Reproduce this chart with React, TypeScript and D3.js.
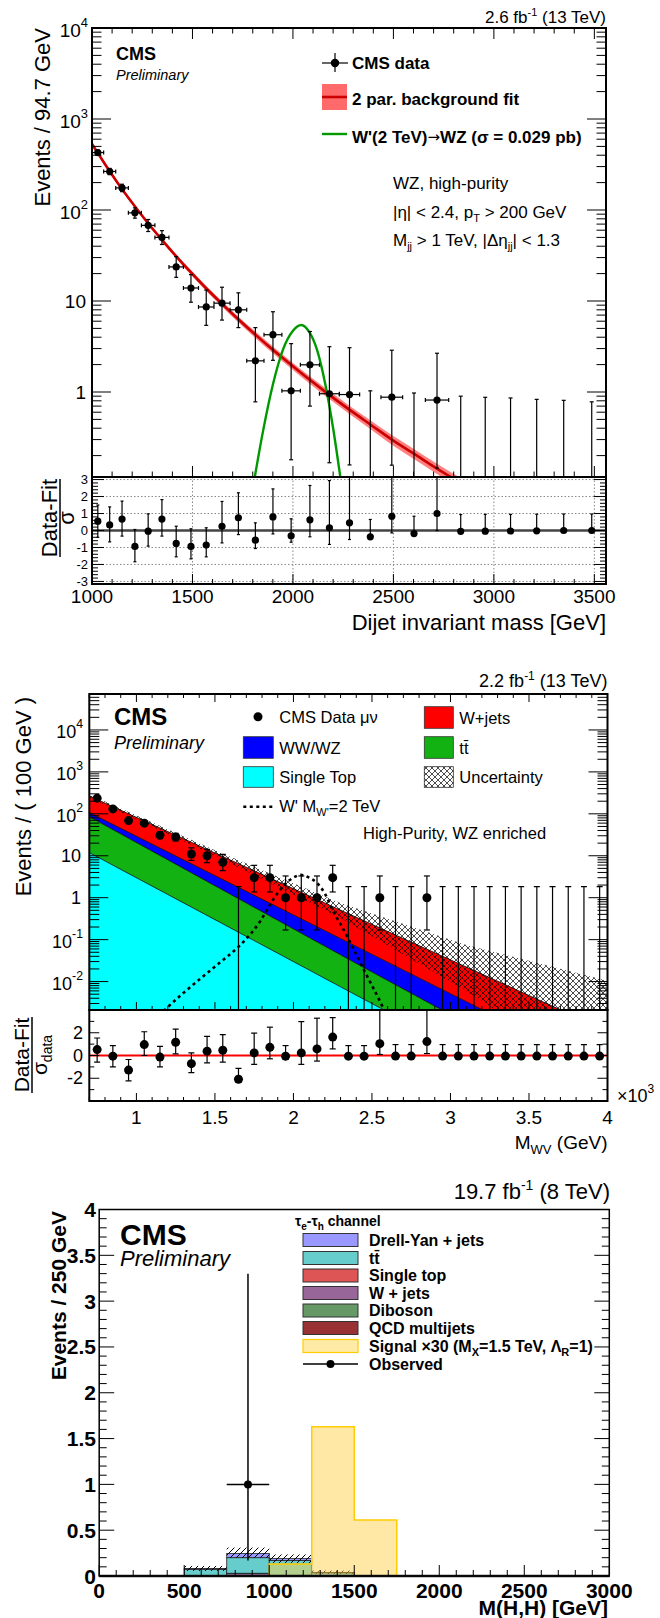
import React from "react";
import * as d3 from "d3";

const FONT = "'Liberation Sans', Arial, Helvetica, sans-serif";

// ---------- plot 1: dijet WZ high-purity, 2.6 fb-1 ----------
const dijetEdges = [1000, 1058, 1118, 1181, 1246, 1313, 1383, 1455, 1530, 1607, 1687, 1770, 1856, 1945, 2037, 2132, 2231, 2332, 2438, 2546, 2659, 2775, 2895, 3019, 3147, 3279, 3416, 3558];
const dijetData = [428, 265, 175, 93, 67.8, 50, 23.7, 13.9, 8.6, 9.47, 8.0, 2.2, 4.26, 1.03, 1.99, 0.957, 0.938, 0, 0.877, 0, 0.816, 0, 0, 0, 0, 0, 0];
const dijetErrLo = [26, 20.5, 16, 11.6, 9.8, 8.2, 5.5, 4.2, 3.2, 3.3, 2.9, 1.42, 2.03, 0.85, 1.29, 0.79, 0.78, 0, 0.72, 0, 0.67, 0, 0, 0, 0, 0, 0];
const dijetErrHi = [27, 21.5, 17, 12.6, 10.8, 9.3, 7.0, 5.6, 4.6, 4.7, 4.3, 2.9, 3.36, 2.37, 2.63, 2.19, 2.13, 1.03, 2.0, 0.975, 1.85, 0.9, 0.875, 0.86, 0.83, 0.81, 0.78];
const fitMass = [1000, 1029, 1088, 1149, 1213, 1279, 1348, 1419, 1492, 1568, 1647, 1728, 1813, 1900, 1991, 2084, 2181, 2281, 2385, 2492, 2602, 2717, 2835];
const fitVal = [531, 422, 266, 170, 110, 71.6, 47, 31, 20.7, 13.8, 9.3, 6.3, 4.27, 2.91, 1.99, 1.36, 0.93, 0.64, 0.44, 0.3, 0.21, 0.144, 0.1];
const fitUnc = [0.05, 0.045, 0.04, 0.04, 0.04, 0.045, 0.05, 0.055, 0.06, 0.065, 0.07, 0.075, 0.08, 0.085, 0.09, 0.095, 0.1, 0.105, 0.11, 0.12, 0.125, 0.13, 0.135];
const sigMass = [1805, 1850, 1900, 1950, 2000, 2042, 2080, 2120, 2160, 2200, 2240];
const sigVal = [0.1, 0.36, 1.2, 2.9, 4.7, 5.45, 4.6, 2.9, 1.25, 0.4, 0.1];
const pullVal = [0.55, 0.33, 0.67, -0.94, -0.04, 0.67, -0.76, -0.94, -0.86, 0.25, 0.75, -0.57, 0.8, -0.31, 0.63, 0.16, 0.45, -0.37, 0.84, -0.18, 1.0, -0.05, -0.04, -0.03, -0.02, 0, 0];
const pullLo = [-0.4, -0.67, -0.33, -1.84, -0.92, -0.33, -1.55, -1.67, -1.55, -0.73, -0.24, -1.06, -0.2, -0.69, -0.37, -0.82, -0.53, -0.37, -0.14, -0.18, 0, -0.05, -0.04, -0.03, -0.02, 0, 0];
const pullHi = [1.5, 1.39, 1.73, 0.06, 0.98, 1.82, 0.25, 0.1, 0.16, 1.71, 2.22, 0.45, 2.45, 0.69, 2.65, 2.94, 3.3, 0.65, 3.3, 0.84, 3.3, 0.94, 0.95, 0.95, 0.96, 0.97, 0.97];

// ---------- plot 2: WV mu-nu, 2.2 fb-1 ----------
const wvCenters = [750, 850, 950, 1050, 1150, 1250, 1350, 1450, 1550, 1650, 1750, 1850, 1950, 2050, 2150, 2250, 2350, 2450, 2550, 2650, 2750, 2850, 2950, 3050, 3150, 3250, 3350, 3450, 3550, 3650, 3750, 3850, 3950];
const wvData = [236, 131, 69, 60, 31, 28, 11, 10, 7, 0, 3, 3, 1, 1, 1, 3, 0, 0, 1, 0, 0, 1, 0, 0, 0, 0, 0, 0, 0, 0, 0, 0, 0];
const wvErrLo = [15.4, 11.4, 8.29, 7.72, 5.53, 5.26, 3.27, 3.11, 2.58, 0, 1.63, 1.63, 0.83, 0.83, 0.83, 1.63, 0, 0, 0.83, 0, 0, 0.83, 0, 0, 0, 0, 0, 0, 0, 0, 0, 0, 0];
const wvErrHi = [16.4, 12.5, 9.35, 8.79, 6.62, 6.35, 4.42, 4.26, 3.77, 1.84, 2.92, 2.92, 2.3, 2.3, 2.3, 2.92, 1.84, 1.84, 2.3, 1.84, 1.84, 2.3, 1.84, 1.84, 1.84, 1.84, 1.84, 1.84, 1.84, 1.84, 1.84, 1.84, 1.84];
const wvPull = [0.52, -0.06, -1.28, 0.96, -0.14, 1.16, -0.72, 0.38, 0.46, -2.09, 0.23, 0.72, -0.06, 0.23, 0.58, 1.62, -0.06, -0.06, 1.04, -0.05, -0.05, 1.22, -0.05, -0.05, -0.05, -0.05, -0.05, -0.05, -0.05, -0.05, -0.05, -0.05, -0.05];
const wvPullLo = [-0.58, -1.0, -2.23, 0, -1.0, 0.15, -1.5, -0.64, -0.58, -2.37, -0.78, -0.29, -0.35, -0.78, -0.49, 0.58, -0.06, -0.06, 0.09, -0.05, -0.05, 0.17, -0.05, -0.05, -0.05, -0.05, -0.05, -0.05, -0.05, -0.05, -0.05, -0.05, -0.05];
const wvPullHi = [1.54, 0.87, -0.35, 2.09, 0.81, 2.32, 0.23, 1.68, 1.83, -1.13, 1.97, 2.49, 0.87, 2.98, 3.28, 3.33, 0.87, 0.87, 4.5, 0.96, 0.96, 4.5, 0.96, 0.96, 0.96, 0.96, 0.96, 0.96, 0.96, 0.96, 0.96, 0.96, 0.96];
const bkgMass = [700, 1500, 2300, 3100, 4000];
const bkgSingleTop = [11.9, 0.3, 0.0075, 0.00019, 0.000003];
const bkgTTbar = [74, 1.63, 0.036, 0.00083, 0.0000105];
const bkgVV = [21, 1.43, 0.062, 0.0023, 0.000054];
const bkgWjets = [160, 8.3, 0.4, 0.019, 0.00059];
const bkgUncLo = [245, 10, 0.33, 0.006, 0.00004];
const bkgUncHi = [290, 13.5, 0.75, 0.075, 0.0105];
const wpMass = [1173, 1290, 1407, 1530, 1651, 1730, 1790, 1870, 1940, 2000, 2045, 2100, 2152, 2200, 2250, 2310, 2365, 2450, 2556, 2580];
const wpVal = [0.002, 0.005, 0.0117, 0.028, 0.068, 0.14, 0.28, 0.89, 2.0, 3.0, 3.5, 3.0, 2.2, 1.26, 0.5, 0.2, 0.081, 0.0186, 0.0031, 0.002];

// ---------- plot 3: M(H,H), tau_e tau_h, 19.7 fb-1 ----------
const hhEdges = [0, 250, 500, 750, 1000, 1250, 1500, 1750, 2000, 2250, 2500, 2750, 3000];
const hhQCD = [0, 0, 0, 0, 0, 0, 0, 0, 0, 0, 0, 0];
const hhDiboson = [0, 0, 0, 0.004, 0.004, 0.002, 0, 0, 0, 0, 0, 0];
const hhWjets = [0, 0, 0, 0.022, 0, 0, 0, 0, 0, 0, 0, 0];
const hhSingleTop = [0, 0, 0.003, 0.004, 0.004, 0.003, 0, 0, 0, 0, 0, 0];
const hhTTbar = [0, 0, 0.07, 0.17, 0.162, 0.03, 0, 0, 0, 0, 0, 0];
const hhDY = [0, 0, 0.008, 0.045, 0.02, 0.005, 0, 0, 0, 0, 0, 0];
const hhUncLo = [0, 0, 0.055, 0.2, 0.14, 0.02, 0, 0, 0, 0, 0, 0];
const hhUncHi = [0, 0, 0.11, 0.31, 0.235, 0.06, 0, 0, 0, 0, 0, 0];
const hhSignal = [0, 0, 0, 0, 0.13, 1.63, 0.61, 0, 0, 0, 0, 0];
const hhObsMass = [875];
const hhObs = [1];
const hhObsLo = [0.83];
const hhObsHi = [2.3];

type Tick = { v: number; major: boolean };

function logTicks(lo: number, hi: number): Tick[] {
  const out: Tick[] = [];
  for (let k = Math.floor(Math.log10(lo)); k <= Math.ceil(Math.log10(hi)); k++) {
    for (let m = 1; m < 10; m++) {
      const v = m * Math.pow(10, k);
      if (v >= lo * 0.9999 && v <= hi * 1.0001) out.push({ v, major: m === 1 });
    }
  }
  return out;
}

function linTicks(lo: number, hi: number, step: number, every: number): Tick[] {
  const out: Tick[] = [];
  for (let n = Math.ceil(lo / step - 1e-9); n <= Math.floor(hi / step + 1e-9); n++) {
    const v = +(n * step).toFixed(6);
    out.push({ v, major: Math.abs(v / every - Math.round(v / every)) < 1e-6 });
  }
  return out;
}

const TicksY = ({ ticks, s, x, dir, maj, min }: any) => (
  <g stroke="#000" strokeWidth={1}>
    {ticks.map((t: Tick, i: number) => (
      <line key={i} x1={x} x2={x + dir * (t.major ? maj : min)} y1={s(t.v)} y2={s(t.v)} />
    ))}
  </g>
);

const TicksX = ({ ticks, s, y, dir, maj, min }: any) => (
  <g stroke="#000" strokeWidth={1}>
    {ticks.map((t: Tick, i: number) => (
      <line key={i} x1={s(t.v)} x2={s(t.v)} y1={y} y2={y + dir * (t.major ? maj : min)} />
    ))}
  </g>
);

const Decade = ({ v, x, y, size }: any) => {
  const k = Math.round(Math.log10(v));
  if (k === 0 || k === 1)
    return <text x={x - 2} y={y} textAnchor="end" dominantBaseline="central" fontSize={size}>{k === 0 ? "1" : "10"}</text>;
  return (
    <text x={x} y={y + 2} textAnchor="end" dominantBaseline="central" fontSize={size}>
      10<tspan dy={-size * 0.42} fontSize={size * 0.68}>{k}</tspan>
    </text>
  );
};

function DijetPlot() {
  const L = 92, R = 606, T = 28, M = 477, B = 584;
  const yMin = 0.1164;
  const x = d3.scaleLinear().domain([1000, 3558]).range([L, R]);
  const y = d3.scaleLog().domain([yMin, 1e4]).range([M, T]);
  const yr = d3.scaleLinear().domain([-3.15, 3.15]).range([B, M]);
  const centers = dijetData.map((_, i) => (dijetEdges[i] + dijetEdges[i + 1]) / 2);
  const band = d3.area<number>()
    .x((_, i) => x(fitMass[i]))
    .y0((d, i) => y(d * (1 - fitUnc[i])))
    .y1((d, i) => y(d * (1 + fitUnc[i])))
    .curve(d3.curveMonotoneX)(fitVal);
  const fit = d3.line<number>().x((_, i) => x(fitMass[i])).y((d) => y(d)).curve(d3.curveMonotoneX)(fitVal);
  const sig = d3.line<number>().x((_, i) => x(sigMass[i])).y((d) => y(d)).curve(d3.curveMonotoneX)(sigVal);
  const xt = linTicks(1000, 3558, 100, 500);
  const yt = logTicks(yMin, 1e4);
  const rt = linTicks(-3.15, 3.15, 0.2, 1);
  const ints = [-3, -2, -1, 0, 1, 2, 3];
  return (
    <g>
      <defs>
        <clipPath id="c1"><rect x={L} y={T} width={R - L} height={M - T} /></clipPath>
        <clipPath id="c1r"><rect x={L} y={M} width={R - L} height={B - M} /></clipPath>
      </defs>
      <g clipPath="url(#c1)">
        <path d={band || ""} fill="#ff6b6b" opacity={0.85} />
        <path d={fit || ""} fill="none" stroke="#cc0000" strokeWidth={2.6} />
        <path d={sig || ""} fill="none" stroke="#009a00" strokeWidth={2.4} />
        <g stroke="#000" strokeWidth={1.2}>
          {dijetData.map((v, i) => {
            const cx = x(centers[i]);
            const top = y(v + dijetErrHi[i]);
            if (v <= 0)
              return (
                <g key={i}>
                  <line x1={cx} x2={cx} y1={M} y2={top} />
                  <line x1={cx - 2} x2={cx + 2} y1={top} y2={top} />
                </g>
              );
            const lo = v - dijetErrLo[i];
            const bot = lo > yMin ? y(lo) : M;
            const cy = y(v);
            const x0 = x(dijetEdges[i]), x1 = x(dijetEdges[i + 1]);
            return (
              <g key={i}>
                <line x1={cx} x2={cx} y1={bot} y2={top} />
                <line x1={cx - 2} x2={cx + 2} y1={top} y2={top} />
                <line x1={cx - 2} x2={cx + 2} y1={bot} y2={bot} />
                <line x1={x0} x2={x1} y1={cy} y2={cy} />
                <line x1={x0} x2={x0} y1={cy - 2} y2={cy + 2} />
                <line x1={x1} x2={x1} y1={cy - 2} y2={cy + 2} />
                <circle cx={cx} cy={cy} r={3.6} fill="#000" stroke="none" />
              </g>
            );
          })}
        </g>
      </g>
      {/* main frame and ticks */}
      <rect x={L} y={T} width={R - L} height={M - T} fill="none" stroke="#000" strokeWidth={2} />
      <TicksY ticks={yt} s={y} x={L} dir={1} maj={19} min={9.5} />
      <TicksY ticks={yt} s={y} x={R} dir={-1} maj={19} min={9.5} />
      <TicksX ticks={xt} s={x} y={T} dir={1} maj={11} min={5.5} />
      <TicksX ticks={xt} s={x} y={M} dir={-1} maj={11} min={5.5} />
      {yt.filter((t) => t.major).map((t, i) => <Decade key={i} v={t.v} x={88} y={y(t.v)} size={19} />)}
      {/* ratio panel */}
      <g stroke="#888" strokeWidth={1} strokeDasharray="1.5 2">
        {ints.map((v) => <line key={v} x1={L} x2={R} y1={yr(v)} y2={yr(v)} />)}
        {[1500, 2000, 2500, 3000, 3500].map((v) => <line key={v} x1={x(v)} x2={x(v)} y1={M} y2={B} />)}
      </g>
      <line x1={L} x2={R} y1={yr(0)} y2={yr(0)} stroke="#444" strokeWidth={2.5} />
      <g clipPath="url(#c1r)" stroke="#000" strokeWidth={1.2}>
        {pullVal.map((v, i) => {
          const cx = x(centers[i]);
          return (
            <g key={i}>
              <line x1={cx} x2={cx} y1={yr(pullLo[i])} y2={yr(pullHi[i])} />
              <line x1={cx - 1.5} x2={cx + 1.5} y1={yr(pullHi[i])} y2={yr(pullHi[i])} />
              <line x1={cx - 1.5} x2={cx + 1.5} y1={yr(pullLo[i])} y2={yr(pullLo[i])} />
              <circle cx={cx} cy={yr(v)} r={3.6} fill="#000" stroke="none" />
            </g>
          );
        })}
      </g>
      <rect x={L} y={M} width={R - L} height={B - M} fill="none" stroke="#000" strokeWidth={2} />
      <TicksY ticks={rt} s={yr} x={L} dir={1} maj={12} min={6} />
      <TicksY ticks={rt} s={yr} x={R} dir={-1} maj={12} min={6} />
      <TicksX ticks={xt} s={x} y={B} dir={-1} maj={10} min={5} />
      {ints.map((v) => (
        <text key={v} x={88} y={yr(v)} textAnchor="end" dominantBaseline="central" fontSize={13}>{v}</text>
      ))}
      {[1000, 1500, 2000, 2500, 3000, 3500].map((v) => (
        <text key={v} x={x(v)} y={596} textAnchor="middle" dominantBaseline="central" fontSize={19}>{v}</text>
      ))}
      <text x={R} y={622} textAnchor="end" dominantBaseline="central" fontSize={22}>Dijet invariant mass [GeV]</text>
      <text transform="translate(50,28) rotate(-90)" textAnchor="end" fontSize={22}>Events / 94.7 GeV</text>
      <g transform="translate(60,518) rotate(-90)">
        <text x={0} y={-3} textAnchor="middle" fontSize={22}>Data-Fit</text>
        <line x1={-39} x2={39} y1={0} y2={0} stroke="#000" strokeWidth={1.5} />
        <text x={0} y={14} textAnchor="middle" fontSize={22}>σ</text>
      </g>
      {/* labels and legend */}
      <text x={R} y={23} textAnchor="end" fontSize={17}>
        2.6 fb<tspan dy={-7} fontSize={11}>-1</tspan><tspan dy={7} fontSize={17}> (13 TeV)</tspan>
      </text>
      <text x={116} y={60} fontSize={18} fontWeight="bold">CMS</text>
      <text x={116} y={80} fontSize={14.5} fontStyle="italic">Preliminary</text>
      <g stroke="#000" strokeWidth={1.2}>
        <line x1={322} x2={348} y1={63} y2={63} />
        <line x1={335} x2={335} y1={53} y2={72} />
        <circle cx={335} cy={63} r={3.6} fill="#000" />
      </g>
      <rect x={322} y={84} width={25} height={26} fill="#ff6b6b" />
      <line x1={322} x2={347} y1={97} y2={97} stroke="#cc0000" strokeWidth={2.6} />
      <line x1={322} x2={347} y1={134} y2={134} stroke="#009a00" strokeWidth={2.4} />
      <g fontSize={17} fontWeight="bold">
        <text x={352} y={63} dominantBaseline="central">CMS data</text>
        <text x={352} y={99} dominantBaseline="central">2 par. background fit</text>
        <text x={352} y={137} dominantBaseline="central">
          W'(2 TeV)<tspan fontFamily="'DejaVu Sans'" fontWeight="normal" fontSize={15}>{"\u2192"}</tspan>WZ (σ = 0.029 pb)
        </text>
      </g>
      <g fontSize={17}>
        <text x={393} y={189}>WZ, high-purity</text>
        <text x={393} y={218}>|η| &lt; 2.4, p<tspan dy={4} fontSize={11}>T</tspan><tspan dy={-4} fontSize={17}> &gt; 200 GeV</tspan></text>
        <text x={393} y={246}>M<tspan dy={4} fontSize={11}>jj</tspan><tspan dy={-4} fontSize={17}> &gt; 1 TeV, |Δη</tspan><tspan dy={4} fontSize={11}>jj</tspan><tspan dy={-4} fontSize={17}>| &lt; 1.3</tspan></text>
      </g>
    </g>
  );
}

function WVPlot() {
  const L = 89.3, R = 607.5, T = 694, M = 1010, B = 1101;
  const yMin = 0.0021, yMax = 72000;
  const x = d3.scaleLinear().domain([700, 4000]).range([L, R]);
  const y = d3.scaleLog().domain([yMin, yMax]).range([M, T]);
  const yr = d3.scaleLinear().domain([-4, 4]).range([B, M]);
  const c1 = bkgSingleTop;
  const c2 = c1.map((v, i) => v + bkgTTbar[i]);
  const c3 = c2.map((v, i) => v + bkgVV[i]);
  const c4 = c3.map((v, i) => v + bkgWjets[i]);
  const area = (lo: number[] | null, hi: number[]) =>
    d3.area<number>()
      .x((_, i) => x(bkgMass[i]))
      .y0((_, i) => (lo ? y(lo[i]) : M + 5))
      .y1((d) => y(d))(hi) || "";
  const line = (vals: number[]) => d3.line<number>().x((_, i) => x(bkgMass[i])).y((d) => y(d))(vals) || "";
  const unc = d3.area<number>().x((_, i) => x(bkgMass[i])).y0((_, i) => y(bkgUncLo[i])).y1((d) => y(d))(bkgUncHi) || "";
  const wp = d3.line<number>().x((_, i) => x(wpMass[i])).y((d) => y(d)).curve(d3.curveMonotoneX)(wpVal) || "";
  const xt = linTicks(700, 4000, 100, 500);
  const yt = logTicks(yMin, yMax);
  const rt = linTicks(-3, 3, 1, 2);
  return (
    <g>
      <defs>
        <clipPath id="c2"><rect x={L} y={T} width={R - L} height={M - T} /></clipPath>
        <clipPath id="c2r"><rect x={L} y={M} width={R - L} height={B - M} /></clipPath>
        <pattern id="xh" width={6} height={6} patternUnits="userSpaceOnUse">
          <path d="M0,0 L6,6 M6,0 L0,6" stroke="#000" strokeWidth={0.7} />
        </pattern>
      </defs>
      <g clipPath="url(#c2)">
        <path d={area(c3, c4)} fill="#ff0000" />
        <path d={area(c2, c3)} fill="#0000ff" />
        <path d={area(c1, c2)} fill="#12b212" />
        <path d={area(null, c1)} fill="#00ffff" />
        <g fill="none" stroke="#000" strokeWidth={0.8}>
          <path d={line(c1)} />
          <path d={line(c2)} />
          <path d={line(c3)} />
          <path d={line(c4)} />
        </g>
        <path d={unc} fill="url(#xh)" />
        <path d={wp} fill="none" stroke="#000" strokeWidth={2.6} strokeDasharray="3 3.5" />
        <g stroke="#000" strokeWidth={1.2}>
          {wvData.map((v, i) => {
            const cx = x(wvCenters[i]);
            const top = y(v + wvErrHi[i]);
            const lo = v - wvErrLo[i];
            const bot = v > 0 && lo > yMin ? y(lo) : M;
            return (
              <g key={i}>
                <line x1={cx} x2={cx} y1={bot} y2={top} />
                <line x1={cx - 3} x2={cx + 3} y1={top} y2={top} />
                {v > 0 && <line x1={cx - 3} x2={cx + 3} y1={bot} y2={bot} />}
                {v > 0 && <circle cx={cx} cy={y(v)} r={4.5} fill="#000" stroke="none" />}
              </g>
            );
          })}
        </g>
      </g>
      <rect x={L} y={T} width={R - L} height={M - T} fill="none" stroke="#000" strokeWidth={2} />
      <TicksY ticks={yt} s={y} x={L} dir={1} maj={19} min={10} />
      <TicksY ticks={yt} s={y} x={R} dir={-1} maj={19} min={10} />
      <TicksX ticks={xt} s={x} y={T} dir={1} maj={8} min={4} />
      <TicksX ticks={xt} s={x} y={M} dir={-1} maj={8} min={4} />
      {yt.filter((t) => t.major).map((t, i) => <Decade key={i} v={t.v} x={83} y={y(t.v)} size={18} />)}
      {/* ratio */}
      <line x1={L} x2={R} y1={yr(0)} y2={yr(0)} stroke="#ff0000" strokeWidth={2} />
      <g clipPath="url(#c2r)" stroke="#000" strokeWidth={1.2}>
        {wvPull.map((v, i) => {
          const cx = x(wvCenters[i]);
          return (
            <g key={i}>
              <line x1={cx} x2={cx} y1={yr(wvPullLo[i])} y2={yr(wvPullHi[i])} />
              <line x1={cx - 3} x2={cx + 3} y1={yr(wvPullHi[i])} y2={yr(wvPullHi[i])} />
              <line x1={cx - 3} x2={cx + 3} y1={yr(wvPullLo[i])} y2={yr(wvPullLo[i])} />
              <circle cx={cx} cy={yr(v)} r={4.5} fill="#000" stroke="none" />
            </g>
          );
        })}
      </g>
      <rect x={L} y={M} width={R - L} height={B - M} fill="none" stroke="#000" strokeWidth={2} />
      <TicksY ticks={rt} s={yr} x={L} dir={1} maj={10} min={5} />
      <TicksY ticks={rt} s={yr} x={R} dir={-1} maj={10} min={5} />
      <TicksX ticks={xt} s={x} y={B} dir={-1} maj={8} min={4} />
      {[2, 0, -2].map((v) => (
        <text key={v} x={83} y={yr(v)} textAnchor="end" dominantBaseline="central" fontSize={18}>{v}</text>
      ))}
      {[1000, 1500, 2000, 2500, 3000, 3500, 4000].map((v) => (
        <text key={v} x={x(v)} y={1117} textAnchor="middle" dominantBaseline="central" fontSize={19}>{v / 1000}</text>
      ))}
      <text x={617} y={1096} dominantBaseline="central" fontSize={18}>
        ×10<tspan dy={-7} fontSize={12}>3</tspan>
      </text>
      <text x={R} y={1149} textAnchor="end" fontSize={19}>
        M<tspan dy={5} fontSize={13}>WV</tspan><tspan dy={-5} fontSize={19}> (GeV)</tspan>
      </text>
      <text transform="translate(31,697) rotate(-90)" textAnchor="end" fontSize={22}>Events / ( 100 GeV )</text>
      <g transform="translate(32,1055) rotate(-90)">
        <text x={0} y={-3} textAnchor="middle" fontSize={21}>Data-Fit</text>
        <line x1={-38} x2={38} y1={0} y2={0} stroke="#000" strokeWidth={1.5} />
        <text x={0} y={15} textAnchor="middle" fontSize={21}>σ<tspan dy={5} fontSize={14}>data</tspan></text>
      </g>
      <text x={R} y={687} textAnchor="end" fontSize={18}>
        2.2 fb<tspan dy={-7} fontSize={12}>-1</tspan><tspan dy={7} fontSize={18}> (13 TeV)</tspan>
      </text>
      <text x={114} y={725} fontSize={24} fontWeight="bold">CMS</text>
      <text x={114} y={749} fontSize={18} fontStyle="italic">Preliminary</text>
      {/* legend */}
      <circle cx={258} cy={716.7} r={4.5} fill="#000" />
      <rect x={243.3} y={736.7} width={30} height={21.6} fill="#0000ff" stroke="#333" strokeWidth={0.8} />
      <rect x={243.3} y={766.7} width={30} height={20.6} fill="#00ffff" stroke="#333" strokeWidth={0.8} />
      <line x1={243.3} x2={273.3} y1={806.7} y2={806.7} stroke="#000" strokeWidth={2.6} strokeDasharray="3 3.5" />
      <rect x={424.3} y={706.7} width={29} height={21.6} fill="#ff0000" stroke="#333" strokeWidth={0.8} />
      <rect x={424.3} y={736.7} width={29} height={21.6} fill="#12b212" stroke="#333" strokeWidth={0.8} />
      <rect x={424.3} y={766.7} width={29} height={20.6} fill="#fff" stroke="#333" strokeWidth={0.8} />
      <rect x={424.3} y={766.7} width={29} height={20.6} fill="url(#xh)" />
      <g fontSize={16.5}>
        <text x={279.3} y={716.7} dominantBaseline="central">CMS Data μν</text>
        <text x={279.3} y={747.5} dominantBaseline="central">WW/WZ</text>
        <text x={279.3} y={777} dominantBaseline="central">Single Top</text>
        <text x={279.3} y={812}>W' M<tspan dy={4} fontSize={11}>W'</tspan><tspan dy={-4} fontSize={16.5}>=2 TeV</tspan></text>
        <text x={459.3} y={717.5} dominantBaseline="central">W+jets</text>
        <text x={459.3} y={747.5} dominantBaseline="central">t{"t\u0304"}</text>
        <text x={459.3} y={777} dominantBaseline="central">Uncertainty</text>
        <text x={363} y={833} dominantBaseline="central">High-Purity, WZ enriched</text>
      </g>
    </g>
  );
}

function HHPlot() {
  const L = 99.2, R = 609.3, T = 1209.5, B = 1576;
  const x = d3.scaleLinear().domain([0, 3000]).range([L, R]);
  const y = d3.scaleLinear().domain([0, 4]).range([B, T]);
  const comps = [
    { vals: hhQCD, color: "#993333" },
    { vals: hhDiboson, color: "#669966" },
    { vals: hhWjets, color: "#996699" },
    { vals: hhSingleTop, color: "#dd5555" },
    { vals: hhTTbar, color: "#66cccc" },
    { vals: hhDY, color: "#9999ff" },
  ];
  const bins = hhEdges.slice(0, -1);
  const rects: any[] = [];
  bins.forEach((e, i) => {
    let base = 0;
    comps.forEach((c, k) => {
      const v = c.vals[i];
      if (v > 0) {
        rects.push(
          <rect key={`${i}-${k}`} x={x(e)} y={y(base + v)} width={x(hhEdges[i + 1]) - x(e)} height={y(base) - y(base + v)}
            fill={c.color} stroke="#222" strokeWidth={0.8} />
        );
      }
      base += v;
    });
  });
  const stepPts: [number, number][] = [];
  hhSignal.forEach((v, i) => {
    stepPts.push([x(hhEdges[i]), y(v)]);
    stepPts.push([x(hhEdges[i + 1]), y(v)]);
  });
  const sigD = d3.line()(stepPts) || "";
  const sigFill = d3.area().y0(B).y1((d) => d[1])(stepPts) || "";
  const xt = linTicks(0, 3000, 100, 500);
  const yt = linTicks(0, 4, 0.1, 0.5);
  const legend = [
    { name: "Drell-Yan + jets", color: "#9999ff" },
    { name: "t\u0074\u0304", color: "#66cccc" },
    { name: "Single top", color: "#dd5555" },
    { name: "W + jets", color: "#996699" },
    { name: "Diboson", color: "#669966" },
    { name: "QCD multijets", color: "#993333" },
  ];
  const rowY = [1240, 1258, 1275.5, 1293, 1310.5, 1328, 1346, 1364];
  return (
    <g>
      <defs>
        <pattern id="dh" width={6} height={6} patternUnits="userSpaceOnUse">
          <path d="M-1,7 L7,-1" stroke="#000" strokeWidth={1} />
        </pattern>
      </defs>
      {rects}
      {bins.map((e, i) =>
        hhUncHi[i] > 0 ? (
          <rect key={i} x={x(e)} y={y(hhUncHi[i])} width={x(hhEdges[i + 1]) - x(e)} height={y(hhUncLo[i]) - y(hhUncHi[i])} fill="url(#dh)" />
        ) : null
      )}
      <path d={sigFill} fill="#ffd24d" fillOpacity={0.5} />
      <path d={sigD} fill="none" stroke="#ffcc00" strokeWidth={1.5} />
      <g stroke="#000" strokeWidth={1.5}>
        {hhObs.map((v, i) => (
          <g key={i}>
            <line x1={x(hhObsMass[i])} x2={x(hhObsMass[i])} y1={y(v - hhObsLo[i])} y2={y(v + hhObsHi[i])} />
            <line x1={x(hhObsMass[i] - 125)} x2={x(hhObsMass[i] + 125)} y1={y(v)} y2={y(v)} />
            <circle cx={x(hhObsMass[i])} cy={y(v)} r={4} fill="#000" stroke="none" />
          </g>
        ))}
      </g>
      <line x1={L} x2={R} y1={B} y2={B} stroke="#222" strokeWidth={2.5} />
      <rect x={L} y={T} width={R - L} height={B - T} fill="none" stroke="#000" strokeWidth={1.5} />
      <TicksY ticks={yt} s={y} x={L} dir={1} maj={15} min={7.5} />
      <TicksY ticks={yt} s={y} x={R} dir={-1} maj={15} min={7.5} />
      <TicksX ticks={xt} s={x} y={B} dir={-1} maj={11} min={6} />
      <g fontWeight="bold" fontSize={21}>
        {yt.filter((t) => t.major).map((t) => (
          <text key={t.v} x={96} y={y(t.v)} textAnchor="end" dominantBaseline="central">{t.v}</text>
        ))}
        {xt.filter((t) => t.major).map((t) => (
          <text key={t.v} x={x(t.v)} y={1590} textAnchor="middle" dominantBaseline="central">{t.v}</text>
        ))}
        <text x={608} y={1615} textAnchor="end">M(H,H) [GeV]</text>
        <text transform="translate(66,1211) rotate(-90)" textAnchor="end">Events / 250 GeV</text>
      </g>
      <text x={610} y={1199} textAnchor="end" fontSize={22}>
        19.7 fb<tspan dy={-9} fontSize={14}>-1</tspan><tspan dy={9} fontSize={22}> (8 TeV)</tspan>
      </text>
      <text x={120} y={1245} fontSize={30} fontWeight="bold">CMS</text>
      <text x={120} y={1266} fontSize={22} fontStyle="italic">Preliminary</text>
      {/* legend */}
      <text x={295} y={1226} fontSize={14} fontWeight="bold">
        τ<tspan dy={4} fontSize={10}>e</tspan><tspan dy={-4} fontSize={14}>-τ</tspan><tspan dy={4} fontSize={10}>h</tspan><tspan dy={-4} fontSize={14}> channel</tspan>
      </text>
      {legend.map((l, i) => (
        <rect key={i} x={303} y={rowY[i] - 6.5} width={55} height={13} fill={l.color} stroke="#333" strokeWidth={1} />
      ))}
      <rect x={303} y={rowY[6] - 6.5} width={55} height={13} fill="#ffeaa6" stroke="#ffcc00" strokeWidth={1.2} />
      <line x1={303} x2={358} y1={rowY[7]} y2={rowY[7]} stroke="#000" strokeWidth={1.5} />
      <circle cx={330.5} cy={rowY[7]} r={4} fill="#000" />
      <g fontSize={16} fontWeight="bold">
        {legend.map((l, i) => (
          <text key={i} x={369} y={rowY[i]} dominantBaseline="central">{l.name}</text>
        ))}
        <text x={369} y={rowY[6] + 5.5}>
          Signal ×30 (M<tspan dy={4} fontSize={11}>X</tspan><tspan dy={-4} fontSize={16}>=1.5 TeV, Λ</tspan><tspan dy={4} fontSize={11}>R</tspan><tspan dy={-4} fontSize={16}>=1)</tspan>
        </text>
        <text x={369} y={rowY[7]} dominantBaseline="central">Observed</text>
      </g>
    </g>
  );
}

export default function App() {
  return (
    <div style={{ position: "absolute", left: 0, top: 0 }}>
      <svg width={660} height={1618} fontFamily={FONT} style={{ display: "block", background: "#fff" }}>
        <DijetPlot />
        <WVPlot />
        <HHPlot />
      </svg>
    </div>
  );
}
